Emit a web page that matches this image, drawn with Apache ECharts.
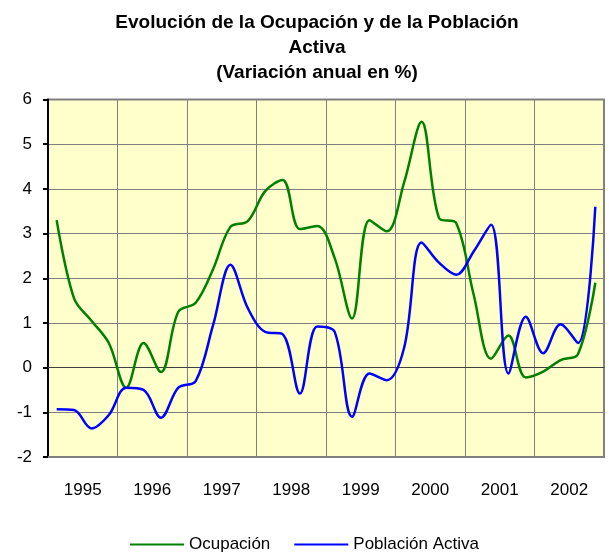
<!DOCTYPE html>
<html style="height: 100%">
   <head>
       <meta charset="utf-8">
   </head>
   <body style="height: 100%; margin: 0">
       <div id="container" style="height: 554px; width: 609px;"></div>
       <script type="text/javascript" src="https://cdn.jsdelivr.net/npm/echarts@6/dist/echarts.min.js"></script>
       <script type="text/javascript">
        // años del eje y trimestres de cada serie
        var years = ['1995', '1996', '1997', '1998', '1999', '2000', '2001', '2002'];
        var quarterNames = ['I', 'II', 'III', 'IV'];
        var quarters = [];
        years.forEach(function (y) {
            quarterNames.forEach(function (q) { quarters.push(y + ' ' + q); });
        });

        // variación anual en %
        var ocupacion = [3.3, 1.55, 1.05, 0.55, -0.45, 0.55, -0.1, 1.25,
                         1.45, 2.2, 3.15, 3.28, 3.95, 4.2, 3.1, 3.17,
                         2.45, 1.1, 3.3, 3.05, 4.15, 5.5, 3.35, 3.23,
                         1.63, 0.2, 0.72, -0.22, -0.09, 0.17, 0.3, 1.9];
        var poblacionActiva = [-0.93, -0.95, -1.36, -1.06, -0.45, -0.5, -1.12, -0.45,
                               -0.3, 0.95, 2.3, 1.33, 0.8, 0.75, -0.58, 0.92,
                               0.8, -1.1, -0.13, -0.28, 0.45, 2.8, 2.35, 2.08,
                               2.6, 3.2, -0.13, 1.14, 0.32, 0.97, 0.55, 3.6];

        var font = 'Liberation Sans, Arial, sans-serif';
        var dom = document.getElementById("container");
        var myChart = echarts.init(dom);
        var option = {
            animation: false,
            textStyle: { fontFamily: font },
            title: {
                text: 'Evolución de la Ocupación y de la Población\nActiva\n(Variación anual en %)',
                left: 317,
                textAlign: 'center',
                top: 10,
                padding: 0,
                textStyle: { fontFamily: font, fontSize: 19, fontWeight: 'bold', color: '#000', lineHeight: 25 }
            },
            legend: {
                top: 531,
                left: 'center',
                icon: 'rect',
                itemWidth: 54,
                itemHeight: 2,
                itemGap: 24,
                textStyle: { fontFamily: font, fontSize: 17, color: '#000' },
                data: ['Ocupación', 'Población Activa']
            },
            grid: {
                left: 48, right: 5, top: 99.5, bottom: 97,
                show: true,
                backgroundColor: '#FFFFCC',
                borderColor: '#808080',
                borderWidth: 2
            },
            xAxis: [{
                type: 'category',
                data: years,
                boundaryGap: true,
                axisLine: { onZero: false, lineStyle: { color: '#808080', width: 2 } },
                axisTick: { show: false },
                splitLine: { show: true, lineStyle: { color: '#808080', width: 1 } },
                axisLabel: { fontFamily: font, fontSize: 17, color: '#000', margin: 25 }
            }, {
                type: 'category',
                data: quarters,
                boundaryGap: true,
                position: 'bottom',
                axisLine: { onZero: true, lineStyle: { color: '#404040', width: 1 } },
                axisTick: { show: false },
                axisLabel: { show: false },
                splitLine: { show: false }
            }],
            yAxis: {
                type: 'value',
                min: -2,
                max: 6,
                interval: 1,
                axisLine: { show: true, lineStyle: { color: '#000', width: 2 } },
                axisTick: { show: true, length: 5, lineStyle: { color: '#000', width: 2 } },
                splitLine: { lineStyle: { color: '#808080', width: 1 } },
                axisLabel: { fontFamily: font, fontSize: 17, color: '#000', margin: 16 }
            },
            series: [{
                name: 'Ocupación',
                type: 'line',
                xAxisIndex: 1,
                data: ocupacion,
                smooth: 0.35,
                showSymbol: false,
                color: '#008000',
                lineStyle: { width: 2.5, color: '#008000' }
            }, {
                name: 'Población Activa',
                type: 'line',
                xAxisIndex: 1,
                data: poblacionActiva,
                smooth: 0.35,
                showSymbol: false,
                color: '#0000FF',
                lineStyle: { width: 2.5, color: '#0000FF' }
            }]
        };

        myChart.setOption(option, true);
       </script>
   </body>
</html>
